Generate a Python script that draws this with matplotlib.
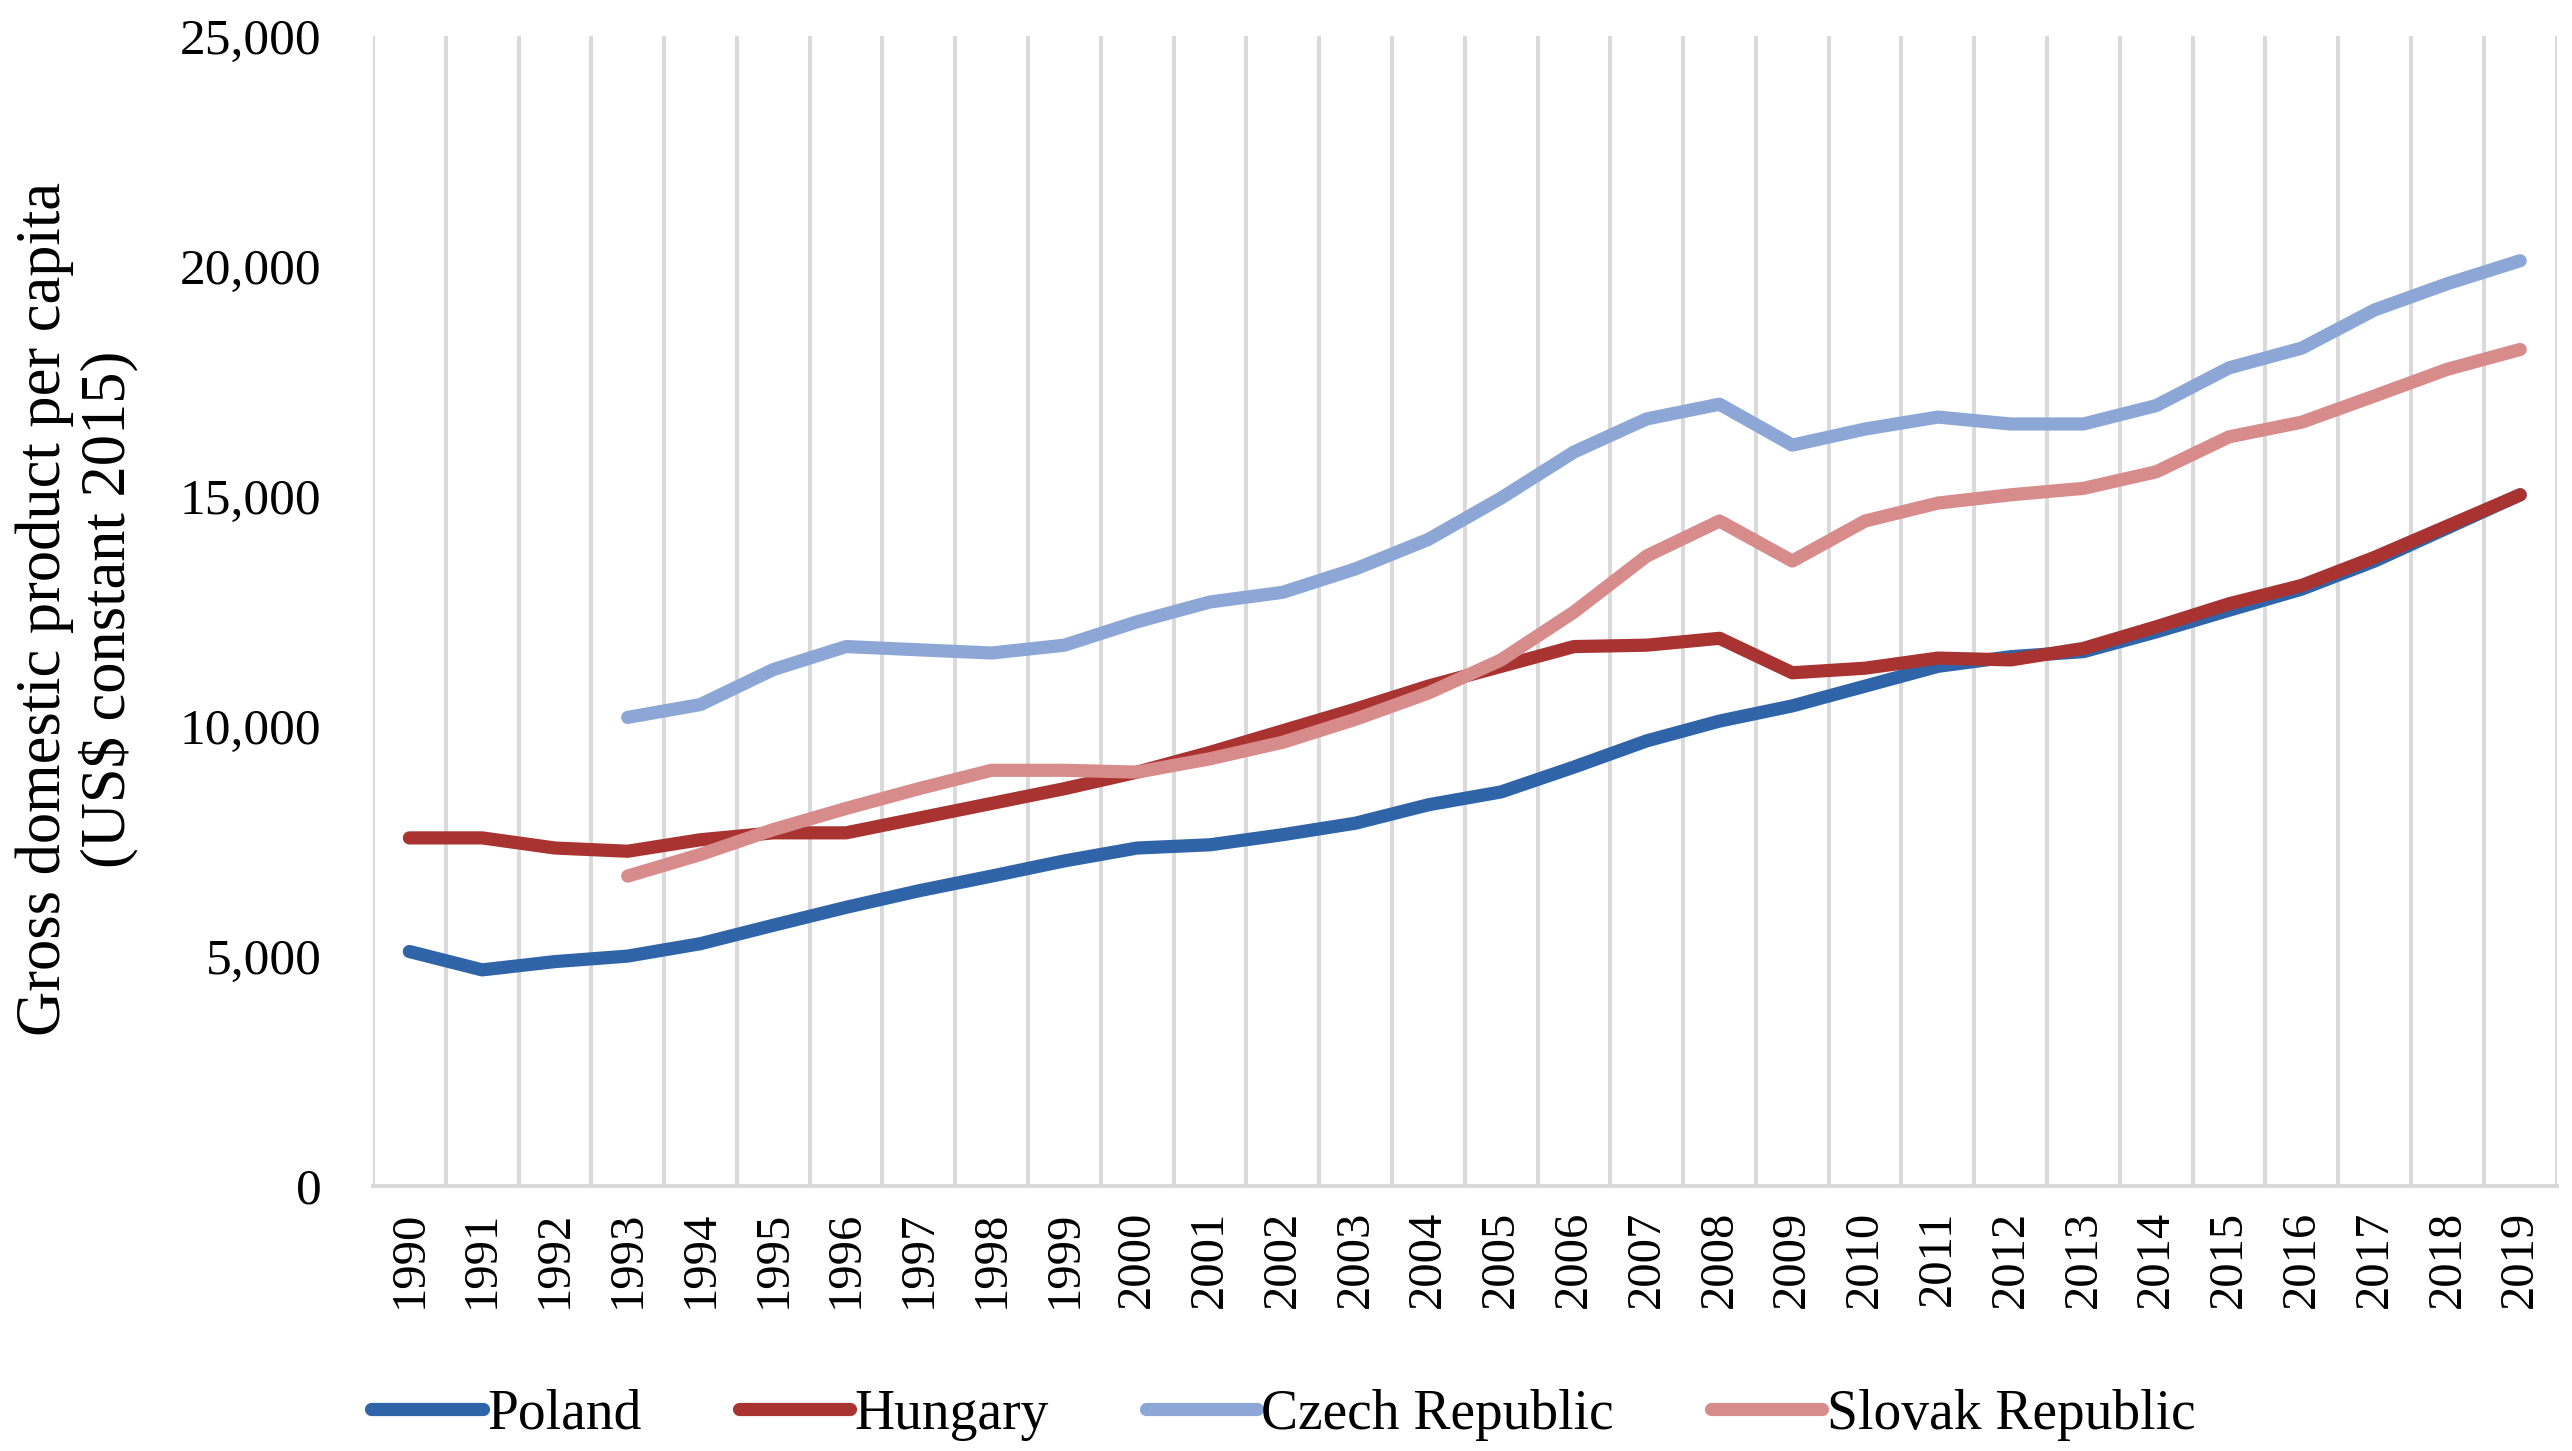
import matplotlib
matplotlib.use("Agg")
import matplotlib.pyplot as plt
import numpy as np

years = list(range(1990, 2020))

# GDP per capita, US$ constant 2015
poland = [5100, 4700, 4880, 5000, 5270, 5670, 6060, 6420, 6740, 7070,
          7350, 7420, 7640, 7890, 8290, 8570, 9110, 9680, 10110, 10440,
          10870, 11300, 11510, 11620, 12050, 12520, 12980, 13590, 14310, 15030]
hungary = [7570, 7570, 7350, 7280, 7530, 7680, 7680, 8000, 8320, 8640,
           9000, 9430, 9900, 10370, 10870, 11300, 11730, 11760, 11910, 11160,
           11260, 11480, 11440, 11690, 12160, 12660, 13060, 13670, 14350, 15030]
# Czech and Slovak series start in 1993
czech = [None, None, None, 10190, 10470, 11230, 11730, 11660, 11590, 11760,
         12270, 12700, 12910, 13420, 14060, 14960, 15960, 16680, 17000, 16110,
         16460, 16720, 16570, 16570, 16970, 17790, 18220, 19050, 19620, 20120]
slovak = [None, None, None, 6740, 7210, 7750, 8210, 8640, 9040, 9040,
          9000, 9290, 9650, 10150, 10720, 11440, 12480, 13700, 14460, 13590,
          14460, 14850, 15030, 15170, 15530, 16290, 16610, 17180, 17760, 18190]

series_names = ["Poland", "Hungary", "Czech Republic", "Slovak Republic"]
colors = ["#2F64A8", "#A93331", "#8CA7D6", "#D78B8B"]

plt.rcParams['font.family'] = ['Liberation Serif', 'DejaVu Serif']

fig = plt.figure(figsize=(25.72, 14.51), dpi=100)
ax = fig.add_axes([0.145, 0.1826, 0.849, 0.7924])

x = np.arange(len(years))
for vals, name, col in zip([poland, hungary, czech, slovak], series_names, colors):
    v = np.array([np.nan if a is None else a for a in vals], dtype=float)
    ax.plot(x, v, color=col, lw=9.5, label=name, solid_capstyle='round', solid_joinstyle='round')

ax.set_xlim(-0.5, len(years) - 0.5)
ax.set_ylim(0, 25000)
ax.set_xticks(x)
ax.set_xticklabels([str(y) for y in years], rotation=90, fontsize=35)
ax.set_xticks(np.arange(-0.5, len(years)), minor=True)
ax.grid(which='minor', axis='x', color='#D9D9D9', lw=2.8)
ax.set_yticks(np.arange(0, 25001, 5000))
ax.set_yticklabels([f"{v:,}" for v in range(0, 25001, 5000)], fontsize=37)
ax.tick_params(axis='both', which='both', length=0)
ax.tick_params(axis='y', pad=37)
ax.tick_params(axis='x', pad=18)
for s in ['top', 'right', 'left']:
    ax.spines[s].set_visible(False)
ax.spines['bottom'].set_color('#D9D9D9')
ax.spines['bottom'].set_linewidth(2.8)
ax.set_axisbelow(True)

fig.text(0.030, 0.580, "Gross domestic product per capita\n(US$ constant 2015)",
         rotation=90, ha='center', va='center', fontsize=45, linespacing=1.1)

fig.legend(loc='center', bbox_to_anchor=(0.499, 0.025), ncol=4, frameon=False,
           fontsize=40, handlelength=2.0, handletextpad=0.08, columnspacing=1.75)

fig.savefig("out.png", dpi=100)
